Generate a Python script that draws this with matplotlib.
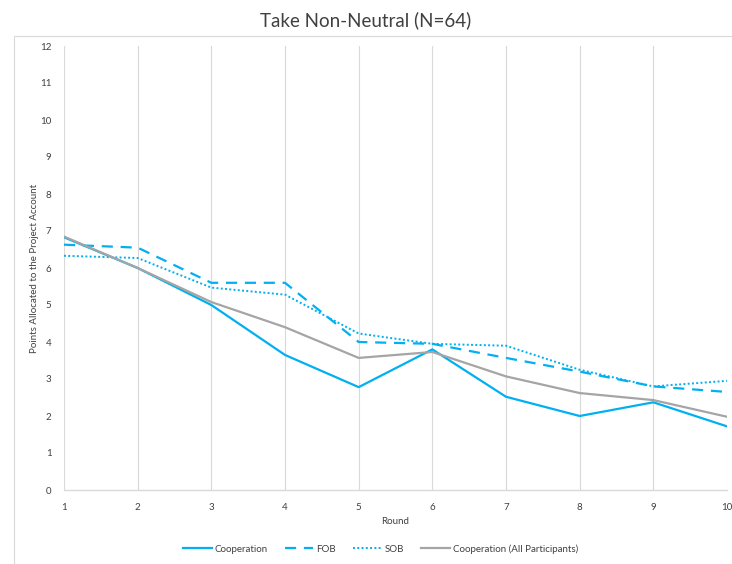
import matplotlib.pyplot as plt
from matplotlib.patches import Rectangle

rounds = [1, 2, 3, 4, 5, 6, 7, 8, 9, 10]
cooperation = [6.83, 6.0, 5.0, 3.65, 2.78, 3.8, 2.52, 2.0, 2.37, 1.72]
fob = [6.63, 6.55, 5.6, 5.6, 4.0, 3.95, 3.57, 3.2, 2.8, 2.65]
sob = [6.33, 6.27, 5.47, 5.28, 4.23, 3.95, 3.9, 3.25, 2.8, 2.95]
coop_all = [6.85, 6.0, 5.08, 4.4, 3.57, 3.73, 3.07, 2.62, 2.43, 1.98]


def main():
    plt.rcParams['font.family'] = ['Lato', 'DejaVu Sans']
    blue = '#00B0F0'
    grey = '#A5A5A5'

    fig = plt.figure(figsize=(7.32, 5.64), dpi=100)
    ax = fig.add_axes([64 / 732, 1 - 490 / 564, (727 - 64) / 732, (490 - 46) / 564])

    # chart area outline
    fig.patches.append(Rectangle((14 / 732, -0.01), 1, 1.01 - 36 / 564, transform=fig.transFigure,
                                 fill=False, edgecolor='#D9D9D9', linewidth=0.8))

    ax.plot(rounds, cooperation, color=blue, lw=1.6, label='Cooperation')
    ax.plot(rounds, fob, color=blue, lw=1.6, ls=(0, (5, 3.5)), label='FOB')
    ax.plot(rounds, sob, color=blue, lw=1.4, ls=(0, (1, 1.2)), label='SOB')
    ax.plot(rounds, coop_all, color=grey, lw=1.6, label='Cooperation (All Participants)')

    ax.set_xlim(1, 10)
    ax.set_ylim(0, 12)
    ax.set_xticks(rounds)
    ax.set_yticks(range(0, 13))
    ax.grid(axis='x', color='#D9D9D9', lw=0.8)
    ax.set_axisbelow(True)
    for s in ['top', 'right', 'left']:
        ax.spines[s].set_visible(False)
    ax.spines['bottom'].set_color('#D9D9D9')
    ax.spines['bottom'].set_linewidth(1.0)
    ax.tick_params(length=0, labelsize=7, colors='#404040')
    ax.tick_params(axis='x', pad=9)
    ax.tick_params(axis='y', pad=9)

    ax.set_xlabel('Round', fontsize=7, color='#404040', labelpad=4)
    ax.set_ylabel('Points Allocated to the Project Account', fontsize=7, color='#404040', labelpad=1)
    fig.text(0.5, 1 - 20 / 564, 'Take Non-Neutral (N=64)', ha='center', va='center',
             fontsize=13.5, color='#404040')

    fig.legend(loc='center', bbox_to_anchor=(0.52, 1 - 549 / 564), ncol=4, frameon=False,
               fontsize=7, handlelength=2.9, handletextpad=0.3, columnspacing=1.8,
               labelcolor='#404040')

    fig.savefig('out.png', dpi=100)


if __name__ == "__main__":
    main()
